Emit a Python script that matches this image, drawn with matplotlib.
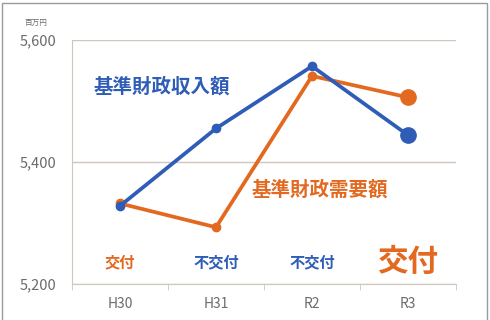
import matplotlib.pyplot as plt
from matplotlib.patches import Rectangle

plt.rcParams['font.family'] = ['Noto Sans CJK JP', 'DejaVu Sans']

# data (百万円)
years = ['H30', 'H31', 'R2', 'R3']
revenue = [5328, 5455, 5557, 5444]   # 基準財政収入額
demand = [5332, 5293, 5541, 5506]    # 基準財政需要額
status = ['交付', '不交付', '不交付', '交付']

blue = '#2f5cb6'
orange = '#e2691f'
grid_c = '#cfc6bc'
text_c = '#6b6b6b'

fig = plt.figure(figsize=(4.9, 3.2), dpi=100)
ax = fig.add_axes([72/490, 1 - 284/320, 384/490, 244/320])

x = list(range(len(years)))
ax.plot(x, demand, color=orange, lw=2.7, marker='o', ms=6, zorder=3)
ax.plot(x[-1], demand[-1], 'o', color=orange, ms=11, zorder=3)
ax.plot(x, revenue, color=blue, lw=2.7, marker='o', ms=6, zorder=4)
ax.plot(x[-1], revenue[-1], 'o', color=blue, ms=11, zorder=4)

ax.set_xlim(-0.5, 3.5)
ax.set_ylim(5200, 5600)
ax.set_yticks([5200, 5400, 5600])
ax.set_yticklabels(['5,200', '5,400', '5,600'])
ax.yaxis.grid(True, color=grid_c, lw=1)
ax.set_axisbelow(True)
ax.tick_params(axis='y', length=0, labelsize=10.5, labelcolor=text_c, pad=11)

ax.set_xticks(x)
ax.set_xticklabels(years)
ax.tick_params(axis='x', length=0, labelsize=10, labelcolor=text_c, pad=9)
ax.set_xticks([-0.5, 0.5, 1.5, 2.5, 3.5], minor=True)
ax.tick_params(axis='x', which='minor', length=4, color=grid_c, direction='out')

for s in ['top', 'right']:
    ax.spines[s].set_visible(False)
ax.spines['left'].set_color(grid_c)
ax.spines['bottom'].set_color(grid_c)

# series labels
ax.text(0.44, 5523, '基準財政収入額', color=blue, fontsize=14,
        fontweight='bold', ha='center', va='center')
ax.text(2.08, 5354, '基準財政需要額', color=orange, fontsize=14,
        fontweight='bold', ha='center', va='center')

# 交付 / 不交付
for i, s in enumerate(status):
    c = orange if s == '交付' else blue
    fs = 22 if i == len(status) - 1 else 11
    ax.text(i, 5236, s, color=c, fontsize=fs, fontweight='bold',
            ha='center', va='center')

fig.text(25/490, 1 - 23/320, '百万円', fontsize=5.5, color=text_c,
         ha='left', va='center')

# outer frame
fig.patches.append(Rectangle((2/490, -0.01), 485/490, 1 - 3/320 + 0.01,
                             transform=fig.transFigure, fill=False,
                             edgecolor='#9a9a9a', lw=1))

fig.savefig('out.png', dpi=100)
